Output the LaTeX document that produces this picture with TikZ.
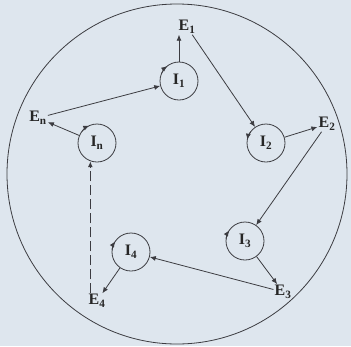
\documentclass[tikz,border=0pt]{standalone}
\usepackage{fontspec}
\setmainfont{Liberation Serif}
\usetikzlibrary{arrows.meta}
\definecolor{bgcol}{RGB}{222,230,238}
\definecolor{linecol}{RGB}{60,60,65}
\begin{document}
\begin{tikzpicture}[x=1pt,y=-1pt,
 every node/.style={font=\bfseries\fontsize{16}{16}\selectfont,text=black!85},
 inode/.style={circle,draw=linecol,minimum size=38pt,inner sep=0pt,line width=0.8pt},
 enode/.style={inner sep=1pt},
 conn/.style={draw=linecol,line width=0.8pt,-{Latex[length=6pt,width=5pt]}},
 selfarr/.style={draw=linecol,line width=0.8pt,-{Latex[length=6pt,width=5pt]}},
]
\fill[bgcol] (0,0) rectangle (351,346);
\useasboundingbox (0,0) rectangle (351,346);
\draw[linecol,line width=0.8pt] (177,174) circle[radius=170];

\node[inode] (I1) at (179,81) {I\textsubscript{1}};
\node[inode] (I2) at (266,143) {I\textsubscript{2}};
\node[inode] (I3) at (245,241) {I\textsubscript{3}};
\node[inode] (I4) at (131,252) {I\textsubscript{4}};
\node[inode] (In) at (97,143) {I\textsubscript{n}};

\node[enode] (E1) at (187,27) {E\textsubscript{1}};
\node[enode] (E2) at (327,124) {E\textsubscript{2}};
\node[enode] (E3) at (283,292) {E\textsubscript{3}};
\node[enode] (E4) at (97,301) {E\textsubscript{4}};
\node[enode] (En) at (38,118) {E\textsubscript{n}};

\draw[conn] (I1.north) -- (I1.north |- E1.south);
\draw[conn] (E1) -- (I2);
\draw[conn] (I2) -- (E2);
\draw[conn] (E2) -- (I3);
\draw[conn] (I3) -- (E3);
\draw[conn] (E3) -- (I4);
\draw[conn] (I4) -- (E4);
\draw[conn,line width=1.2pt,dash pattern=on 10pt off 4pt] (In.250 |- E4.north) -- (In.250);
\draw[conn] (In) -- (En);
\draw[conn] (En) -- (I1);

\draw[selfarr] (I1) ++(205:19) arc[start angle=205,end angle=232,radius=19];
\draw[selfarr] (In) ++(218:19) arc[start angle=218,end angle=246,radius=19];
\draw[selfarr] (I2) ++(216:19) arc[start angle=216,end angle=190,radius=19];
\draw[selfarr] (I3) ++(186:19) arc[start angle=186,end angle=214,radius=19];
\draw[selfarr] (I4) ++(186:19) arc[start angle=186,end angle=214,radius=19];
\end{tikzpicture}
\end{document}
